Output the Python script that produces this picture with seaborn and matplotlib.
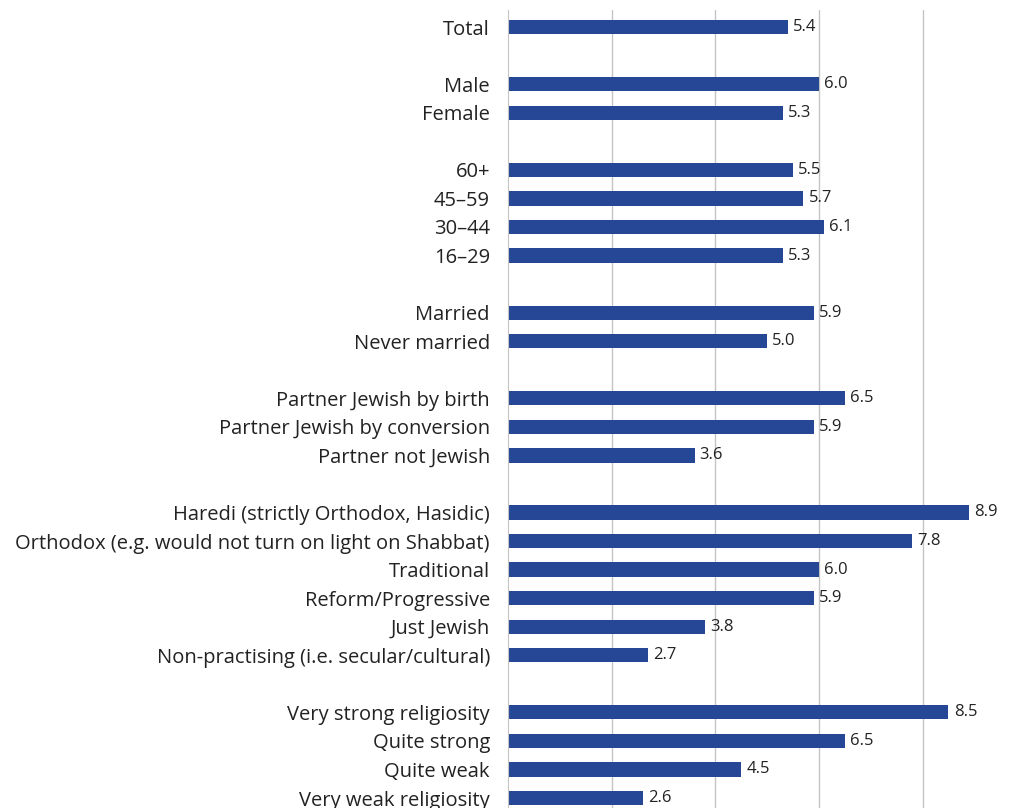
import pandas as pd
import seaborn as sns
import matplotlib.pyplot as plt

# groups of (label, value); a blank row sits between groups
total_labels = ['Total']
total_values = [5.4]
sex_labels = ['Male', 'Female']
sex_values = [6.0, 5.3]
age_labels = ['60+', '45–59', '30–44', '16–29']
age_values = [5.5, 5.7, 6.1, 5.3]
marital_labels = ['Married', 'Never married']
marital_values = [5.9, 5.0]
partner_labels = ['Partner Jewish by birth', 'Partner Jewish by conversion', 'Partner not Jewish']
partner_values = [6.5, 5.9, 3.6]
denom_labels = ['Haredi (strictly Orthodox, Hasidic)',
                'Orthodox (e.g. would not turn on light on Shabbat)',
                'Traditional', 'Reform/Progressive', 'Just Jewish',
                'Non-practising (i.e. secular/cultural)']
denom_values = [8.9, 7.8, 6.0, 5.9, 3.8, 2.7]
relig_labels = ['Very strong religiosity', 'Quite strong', 'Quite weak', 'Very weak religiosity']
relig_values = [8.5, 6.5, 4.5, 2.6]

groups = [(total_labels, total_values), (sex_labels, sex_values), (age_labels, age_values),
          (marital_labels, marital_values), (partner_labels, partner_values),
          (denom_labels, denom_values), (relig_labels, relig_values)]

rows = []
pos = 0
for labs, vals in groups:
    for l, v in zip(labs, vals):
        rows.append({'label': l, 'value': v, 'pos': pos})
        pos += 1
    pos += 1
df = pd.DataFrame(rows)

sns.set_style('white')
plt.rcParams['font.family'] = ['Open Sans', 'DejaVu Sans']

fig = plt.figure(figsize=(10.21, 8.08), dpi=100)
ax = fig.add_axes([508 / 1021, 0, 1 - 508 / 1021, 1 - 10 / 808])

sns.barplot(data=df, x='value', y='pos', orient='h', native_scale=True,
            color='#264796', saturation=1, width=0.5, linewidth=0, ax=ax)

for _, r in df.iterrows():
    ax.text(r['value'] + 0.1, r['pos'], f"{r['value']:.1f}", va='center', ha='left',
            fontsize=12, color='#222222')

ax.set_xlim(0, 9.9)
ax.set_ylim(27.35, -0.6)
ax.set_xticks([2, 4, 6, 8])
ax.xaxis.grid(True, color='#c4c4c4', linewidth=1)
ax.set_axisbelow(True)
ax.set_yticks(df['pos'])
ax.set_yticklabels(df['label'], fontsize=14.5, color='#222222')
ax.tick_params(axis='y', length=0, pad=13)
ax.tick_params(axis='x', length=0, labelbottom=False)
ax.set_xlabel('')
ax.set_ylabel('')
for s in ['top', 'right', 'bottom']:
    ax.spines[s].set_visible(False)
ax.spines['left'].set_color('#c4c4c4')

fig.savefig('out.png', dpi=100)
